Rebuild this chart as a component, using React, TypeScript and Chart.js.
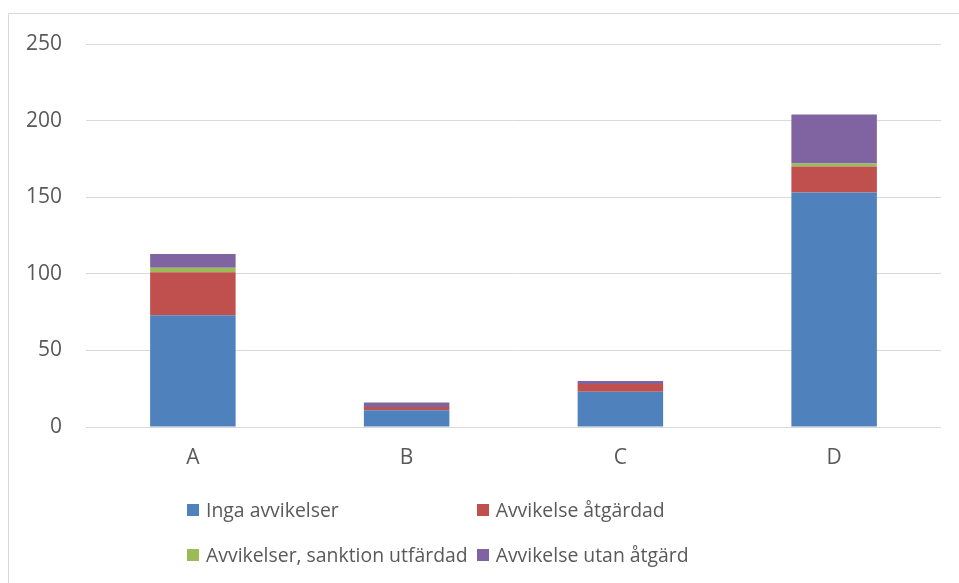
import React, { useEffect, useRef } from "react";
import { Chart, registerables } from "chart.js";

Chart.register(...registerables);

const categories = ["A", "B", "C", "D"];
const seriesNames = [
  "Inga avvikelser",
  "Avvikelse åtgärdad",
  "Avvikelser, sanktion utfärdad",
  "Avvikelse utan åtgärd",
];
const ingaAvvikelser = [73, 11, 23, 153];
const avvikelseAtgardad = [28, 2, 5, 17];
const sanktionUtfardad = [3, 0, 0, 2];
const utanAtgard = [9, 3, 2, 32];
const seriesColors = ["#4F81BD", "#C0504D", "#9BBB59", "#8064A2"];
const yTicks = [0, 50, 100, 150, 200, 250];

const FONT = "'Open Sans', sans-serif";
const TEXT = "#595959";
const GRID = "#D9D9D9";

export default function App() {
  const ref = useRef<HTMLCanvasElement | null>(null);

  useEffect(() => {
    if (!ref.current) return;
    const values = [ingaAvvikelser, avvikelseAtgardad, sanktionUtfardad, utanAtgard];
    const chart = new Chart(ref.current, {
      type: "bar",
      data: {
        labels: categories,
        datasets: seriesNames.map((name, i) => ({
          label: name,
          data: values[i],
          backgroundColor: seriesColors[i],
          borderWidth: 0,
          categoryPercentage: 1,
          barPercentage: 0.4,
        })),
      },
      options: {
        animation: false,
        responsive: true,
        maintainAspectRatio: false,
        layout: { padding: { top: 44, right: 18, left: 0, bottom: 0 } },
        plugins: {
          legend: { display: false },
          tooltip: { enabled: false },
        },
        scales: {
          x: {
            stacked: true,
            grid: { display: false, drawTicks: false },
            border: { display: false },
            ticks: {
              color: TEXT,
              font: { family: FONT, size: 21 },
              padding: 18,
            },
            afterFit: (axis: any) => {
              axis.height = 156;
            },
          },
          y: {
            stacked: true,
            min: 0,
            max: 250,
            afterBuildTicks: (axis: any) => {
              axis.ticks = yTicks.map((v) => ({ value: v }));
            },
            grid: { color: GRID, lineWidth: 1, drawTicks: false },
            border: { display: false },
            ticks: {
              color: TEXT,
              font: { family: FONT, size: 21 },
              padding: 24,
            },
            afterFit: (axis: any) => {
              axis.width = 86;
            },
          },
        },
      },
    });
    return () => chart.destroy();
  }, []);

  return (
    <div
      style={{
        position: "fixed",
        left: 0,
        top: 0,
        width: 959,
        height: 583,
        overflow: "hidden",
        background: "#fff",
      }}
    >
      <div
        style={{
          position: "absolute",
          left: 8,
          top: 13,
          width: 1000,
          height: 700,
          border: `1px solid ${GRID}`,
          boxSizing: "border-box",
        }}
      />
      <div style={{ position: "absolute", left: 0, top: 0, width: 959, height: 583 }}>
        <canvas ref={ref} />
      </div>
      <div
        style={{
          position: "absolute",
          left: 187,
          top: 487,
          display: "grid",
          gridTemplateColumns: "auto auto",
          gridAutoRows: "45px",
          columnGap: 9,
          fontFamily: FONT,
          fontSize: 19.4,
          color: TEXT,
        }}
      >
        {seriesNames.map((name, i) => (
          <div key={name} style={{ display: "flex", alignItems: "center", whiteSpace: "nowrap" }}>
            <span
              style={{
                display: "inline-block",
                width: 12,
                height: 12,
                background: seriesColors[i],
                marginRight: 7,
              }}
            />
            <span>{name}</span>
          </div>
        ))}
      </div>
    </div>
  );
}
